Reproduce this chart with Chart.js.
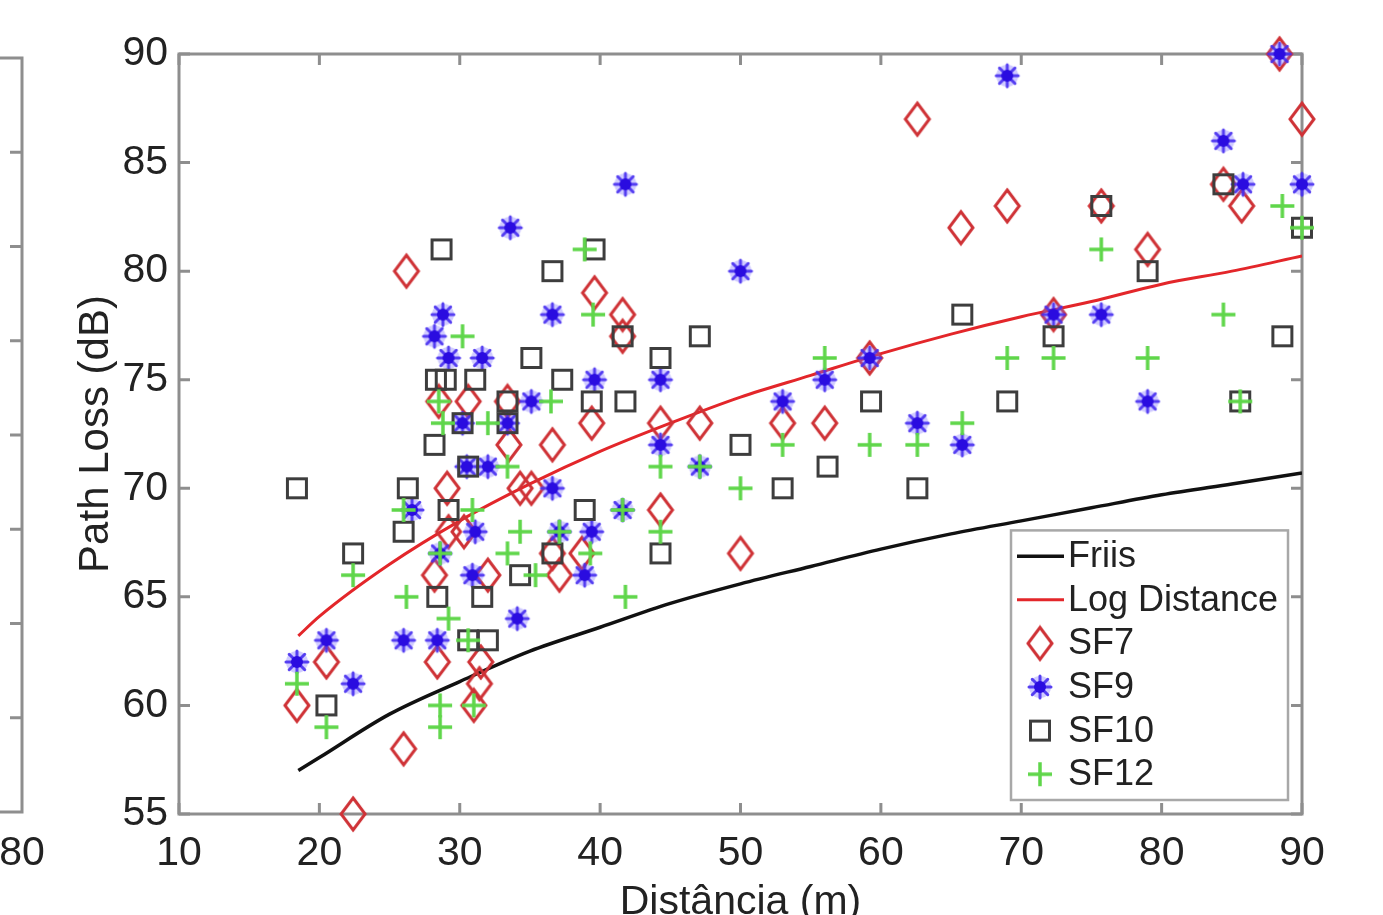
<!DOCTYPE html>
<html>
<head>
<meta charset="utf-8">
<script src="https://cdn.jsdelivr.net/npm/chart.js@4.4.1/dist/chart.umd.min.js"></script>
<style>
  html, body { margin: 0; padding: 0; background: #fff; overflow: hidden; }
  #wrap { position: relative; width: 1383px; height: 950px; }
</style>
</head>
<body>
<div id="wrap"><canvas id="pl" width="1383" height="950"></canvas></div>
<script>
"use strict";

// Model curves
const curveDist = [18.5, 20, 25, 30, 35, 40, 45, 50, 55, 60, 65, 70, 75, 80, 85, 90];
const friisLoss = [57.0, 57.6, 59.6, 61.1, 62.5, 63.6, 64.7, 65.6, 66.4, 67.2, 67.9, 68.5, 69.1, 69.7, 70.2, 70.7];
const logDistLoss = [63.2, 64.1, 66.5, 68.5, 70.2, 71.7, 73.0, 74.2, 75.2, 76.2, 77.1, 77.9, 78.6, 79.4, 80.0, 80.7];

// Measurements per spreading factor: distance (m) / path loss (dB)
const sf7Dist = [18.4, 20.5, 22.4, 26.0, 26.2, 28.2, 28.4, 28.5, 29.1, 29.2, 30.3, 30.6, 31.0, 31.4, 31.5, 32.0, 33.4, 33.5, 34.3, 35.1, 36.6, 36.6, 37.1, 38.7, 39.4, 39.6, 41.6, 41.6, 44.3, 44.3, 47.1, 50.0, 53.0, 56.0, 59.2, 62.6, 65.7, 69.0, 72.3, 75.7, 79.0, 84.4, 85.7, 88.4, 90.0];
const sf7Loss = [60, 62, 55, 58, 80, 66, 62, 74, 70, 68, 68, 74, 60, 61, 62, 66, 74, 72, 70, 70, 72, 67, 66, 67, 73, 79, 78, 77, 73, 69, 73, 67, 73, 73, 76, 87, 82, 83, 78, 83, 81, 84, 83, 90, 87];

const sf9Dist = [18.4, 20.5, 22.4, 26.0, 26.6, 28.2, 28.4, 28.6, 28.8, 29.2, 30.2, 30.5, 30.9, 31.1, 31.6, 32.0, 33.4, 33.6, 34.1, 35.1, 36.6, 36.6, 37.1, 38.9, 39.4, 39.6, 41.6, 41.8, 44.3, 44.3, 47.1, 50.0, 53.0, 56.0, 59.2, 62.6, 65.8, 69.0, 72.3, 75.7, 79.0, 84.4, 85.8, 88.4, 90.0];
const sf9Loss = [62, 63, 61, 63, 69, 77, 63, 67, 78, 76, 73, 71, 66, 68, 76, 71, 73, 82, 64, 74, 78, 70, 68, 66, 68, 75, 69, 84, 75, 72, 71, 80, 74, 75, 76, 73, 72, 89, 78, 78, 74, 86, 84, 90, 84];

const sf10Dist = [18.4, 20.5, 22.4, 26.0, 26.3, 28.2, 28.3, 28.4, 28.7, 29.0, 29.2, 30.2, 30.6, 30.6, 31.1, 31.6, 32.0, 33.4, 33.4, 34.3, 35.1, 36.6, 36.6, 37.3, 38.9, 39.4, 39.6, 41.6, 41.8, 44.3, 44.3, 47.1, 50.0, 53.0, 56.2, 59.3, 62.6, 65.8, 69.0, 72.3, 75.7, 79.0, 84.4, 85.6, 88.6, 90.0];
const sf10Loss = [70, 60, 67, 68, 70, 72, 75, 65, 81, 75, 69, 73, 71, 63, 75, 65, 63, 74, 73, 66, 76, 80, 67, 75, 69, 74, 81, 77, 74, 76, 67, 77, 72, 70, 71, 74, 70, 78, 74, 77, 83, 80, 84, 74, 77, 82];

const sf12Dist = [18.4, 20.5, 22.4, 26.0, 26.2, 28.5, 28.6, 28.6, 28.6, 28.8, 29.2, 30.2, 30.6, 30.9, 31.0, 32.0, 33.4, 33.4, 34.3, 35.4, 36.5, 37.1, 38.9, 39.3, 39.5, 41.6, 41.8, 44.3, 44.3, 47.1, 50.0, 53.0, 56.0, 59.2, 62.6, 65.8, 69.0, 72.3, 75.7, 79.0, 84.4, 85.6, 88.6, 90.0];
const sf12Loss = [61, 59, 66, 69, 65, 74, 67, 60, 59, 73, 64, 77, 63, 69, 60, 73, 71, 67, 68, 66, 74, 68, 81, 67, 78, 69, 65, 71, 68, 71, 70, 72, 76, 72, 72, 73, 76, 76, 81, 76, 78, 74, 83, 82];

// Axis ticks
const xTicks = [10, 20, 30, 40, 50, 60, 70, 80, 90];
const yTicks = [55, 60, 65, 70, 75, 80, 85, 90];

const FONT = '"Liberation Sans", Arial, Helvetica, sans-serif';
const TEXT = '#222222';
const AXIS = '#8e8e8e';

const toPoints = (xs, ys) => xs.map((x, i) => ({ x: x, y: ys[i] }));

// Marker images (MATLAB-like symbols)
function makeMarker(w, h, draw) {
    const c = document.createElement('canvas');
    c.width = w;
    c.height = h;
    draw(c.getContext('2d'), w, h);
    return c;
}

const diamondMark = makeMarker(30, 38, (g, w, h) => {
    g.strokeStyle = '#cf3236';
    g.lineWidth = 3;
    g.beginPath();
    g.moveTo(w / 2, 3);
    g.lineTo(w - 3, h / 2);
    g.lineTo(w / 2, h - 3);
    g.lineTo(3, h / 2);
    g.closePath();
    g.stroke();
});

const starMark = makeMarker(28, 28, (g, w, h) => {
    const cx = w / 2, cy = h / 2;
    g.fillStyle = 'rgba(120, 105, 255, 0.35)';
    g.beginPath();
    g.arc(cx, cy, 11, 0, Math.PI * 2);
    g.fill();
    g.strokeStyle = 'rgba(70, 45, 240, 0.9)';
    g.lineWidth = 3;
    g.lineCap = 'round';
    for (let k = 0; k < 8; k++) {
        const a = k * Math.PI / 4;
        g.beginPath();
        g.moveTo(cx, cy);
        g.lineTo(cx + Math.cos(a) * 11, cy + Math.sin(a) * 11);
        g.stroke();
    }
    g.fillStyle = '#2a0ce0';
    g.beginPath();
    g.arc(cx, cy, 6, 0, Math.PI * 2);
    g.fill();
});

const squareMark = makeMarker(26, 26, (g) => {
    g.strokeStyle = '#3d3d3d';
    g.lineWidth = 3;
    g.strokeRect(3.5, 3.5, 19, 19);
});

const plusMark = makeMarker(28, 28, (g, w, h) => {
    g.strokeStyle = '#5fd64a';
    g.lineWidth = 3.5;
    g.beginPath();
    g.moveTo(w / 2, 2);
    g.lineTo(w / 2, h - 2);
    g.moveTo(2, h / 2);
    g.lineTo(w - 2, h / 2);
    g.stroke();
});

// Box with inward ticks on all four sides (MATLAB style)
const boxAxes = {
    id: 'boxAxes',
    beforeDatasetsDraw(chart, args, opts) {
        const ctx = chart.ctx;
        const a = chart.chartArea;
        const xs = chart.scales.x, ys = chart.scales.y;
        ctx.save();
        ctx.strokeStyle = opts.color;
        ctx.lineWidth = opts.width;
        ctx.strokeRect(a.left, a.top, a.right - a.left, a.bottom - a.top);
        ctx.beginPath();
        xTicks.forEach(v => {
            const px = xs.getPixelForValue(v);
            ctx.moveTo(px, a.top);
            ctx.lineTo(px, a.top + opts.tick);
            ctx.moveTo(px, a.bottom);
            ctx.lineTo(px, a.bottom - opts.tick);
        });
        yTicks.forEach(v => {
            const py = ys.getPixelForValue(v);
            ctx.moveTo(a.left, py);
            ctx.lineTo(a.left + opts.tick, py);
            ctx.moveTo(a.right, py);
            ctx.lineTo(a.right - opts.tick, py);
        });
        ctx.stroke();
        ctx.restore();
    }
};

// Edge of the neighbouring subplot, cut off at the left of the picture
const leftPanel = {
    id: 'leftPanel',
    afterDraw(chart, args, opts) {
        const ctx = chart.ctx;
        const top = chart.chartArea.top + 4, bottom = chart.chartArea.bottom - 2;
        ctx.save();
        ctx.strokeStyle = opts.color;
        ctx.lineWidth = 3;
        ctx.beginPath();
        ctx.moveTo(0, top);
        ctx.lineTo(opts.x, top);
        ctx.lineTo(opts.x, bottom);
        ctx.lineTo(0, bottom);
        const n = opts.divisions;
        for (let k = 1; k < n; k++) {
            const py = top + (bottom - top) * k / n;
            ctx.moveTo(opts.x, py);
            ctx.lineTo(opts.x - opts.tick, py);
        }
        ctx.stroke();
        ctx.fillStyle = TEXT;
        ctx.font = '41px ' + FONT;
        ctx.textAlign = 'center';
        ctx.textBaseline = 'middle';
        ctx.fillText(opts.label, opts.x, chart.chartArea.bottom + 40);
        ctx.restore();
    }
};

// Legend drawn inside the plot, bottom right, opaque
const boxLegend = {
    id: 'boxLegend',
    afterDraw(chart, args, opts) {
        const ctx = chart.ctx;
        const a = chart.chartArea;
        const sets = chart.data.datasets;
        const h = opts.padY * 2 + opts.rowHeight * sets.length;
        const right = a.right - opts.margin;
        const bottom = a.bottom - opts.margin;
        const left = right - opts.width;
        const top = bottom - h;
        ctx.save();
        ctx.fillStyle = '#fff';
        ctx.fillRect(left, top, opts.width, h);
        ctx.strokeStyle = opts.borderColor;
        ctx.lineWidth = 2.5;
        ctx.strokeRect(left, top, opts.width, h);
        ctx.font = opts.fontSize + 'px ' + FONT;
        ctx.textBaseline = 'middle';
        ctx.textAlign = 'left';
        sets.forEach((ds, i) => {
            const cy = top + opts.padY + opts.rowHeight * (i + 0.5);
            if (ds.showLine) {
                ctx.strokeStyle = ds.borderColor;
                ctx.lineWidth = ds.borderWidth;
                ctx.beginPath();
                ctx.moveTo(left + 6, cy);
                ctx.lineTo(left + 53, cy);
                ctx.stroke();
            } else {
                Chart.helpers.drawPoint(ctx, { pointStyle: ds.pointStyle, rotation: 0, radius: 10 }, left + 29, cy);
            }
            ctx.fillStyle = TEXT;
            ctx.fillText(ds.label, left + 57, cy + 1);
        });
        ctx.restore();
    }
};

const lineSet = (label, ys, color, width, order) => ({
    label: label,
    data: toPoints(curveDist, ys),
    showLine: true,
    borderColor: color,
    borderWidth: width,
    pointRadius: 0,
    cubicInterpolationMode: 'monotone',
    order: order
});

const markSet = (label, xs, ys, style, order) => ({
    label: label,
    data: toPoints(xs, ys),
    showLine: false,
    pointStyle: style,
    pointRadius: 10,
    clip: false,
    order: order
});

const data = {
    datasets: [
        lineSet('Friis', friisLoss, '#111111', 3.5, 6),
        lineSet('Log Distance', logDistLoss, '#e3262a', 3, 5),
        markSet('SF7', sf7Dist, sf7Loss, diamondMark, 4),
        markSet('SF9', sf9Dist, sf9Loss, starMark, 3),
        markSet('SF10', sf10Dist, sf10Loss, squareMark, 2),
        markSet('SF12', sf12Dist, sf12Loss, plusMark, 1)
    ]
};

const config = {
    type: 'scatter',
    data: data,
    options: {
        responsive: false,
        animation: false,
        layout: { padding: { left: 0, right: 81, top: 54, bottom: 0 } },
        plugins: {
            legend: { display: false },
            tooltip: { enabled: false },
            boxAxes: { color: AXIS, width: 3, tick: 11 },
            leftPanel: { color: AXIS, x: 22, tick: 12, divisions: 8, label: '80' },
            boxLegend: { width: 277, rowHeight: 43.6, padY: 4, margin: 14, fontSize: 36, borderColor: '#a8a8a8' }
        },
        scales: {
            x: {
                type: 'linear',
                min: 10,
                max: 90,
                afterBuildTicks: s => { s.ticks = xTicks.map(v => ({ value: v })); },
                ticks: { font: { family: FONT, size: 41 }, color: TEXT, padding: 15, maxRotation: 0 },
                grid: { display: false, drawTicks: false },
                border: { display: false },
                title: { display: true, text: 'Distância (m)', font: { family: FONT, size: 41 }, color: TEXT, padding: { top: 0, bottom: 23 } },
                afterFit: s => { s.height = 136; }
            },
            y: {
                min: 55,
                max: 90,
                afterBuildTicks: s => { s.ticks = yTicks.map(v => ({ value: v })); },
                ticks: { font: { family: FONT, size: 41 }, color: TEXT, padding: 11 },
                grid: { display: false, drawTicks: false },
                border: { display: false },
                title: { display: true, text: 'Path Loss (dB)', font: { family: FONT, size: 42 }, color: TEXT, padding: { top: 71, bottom: 0 } },
                afterFit: s => { s.width = 179; }
            }
        }
    },
    plugins: [boxAxes, leftPanel, boxLegend]
};

const plChart = new Chart(document.getElementById('pl'), config);
</script>
</body>
</html>
